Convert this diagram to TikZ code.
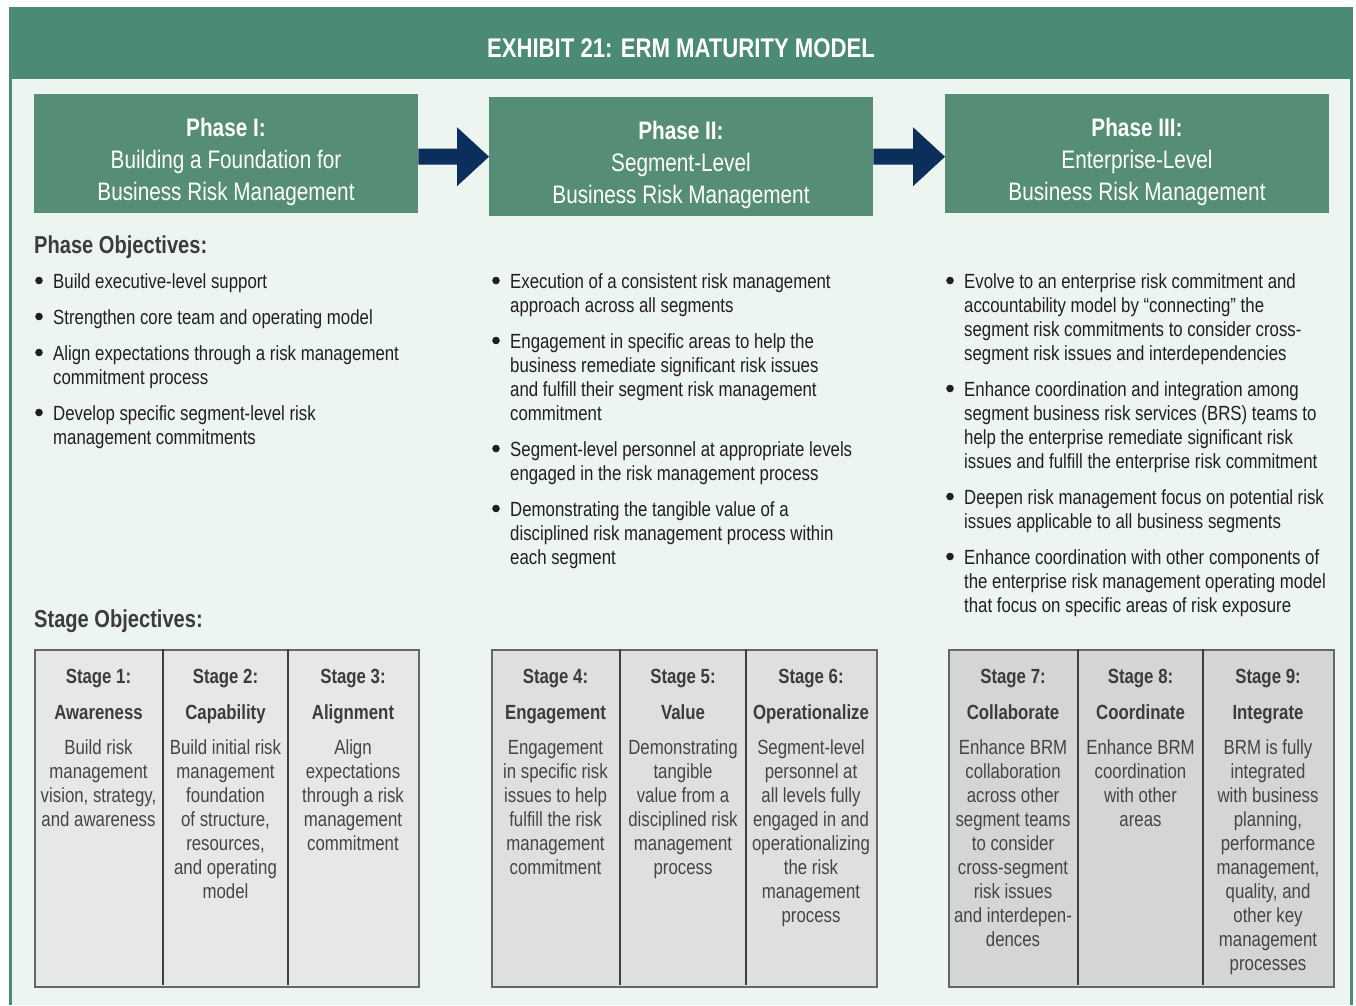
\documentclass[tikz,border=0pt]{standalone}
\usepackage{fontspec}
\setmainfont{Liberation Sans}[FakeStretch=0.82]
\usetikzlibrary{calc}
\definecolor{framegreen}{HTML}{4B8A73}
\definecolor{phasegreen}{HTML}{568E75}
\definecolor{mint}{HTML}{EDF5F0}
\definecolor{navy}{HTML}{0B2E5A}
\definecolor{gA}{HTML}{E6E7E9}
\definecolor{gB}{HTML}{DEDFE1}
\definecolor{gC}{HTML}{D4D5D7}
\definecolor{bodytext}{HTML}{231F20}
\definecolor{headtext}{HTML}{3C3C3C}
\definecolor{stagetext}{HTML}{454545}
\definecolor{boxborder}{HTML}{666666}
\definecolor{divider}{HTML}{3E3E3E}
\newcommand\fbody{\fontsize{20.5}{24}\selectfont}
\newcommand\fphase{\fontsize{25.3}{32}\selectfont}
\newcommand\ftitle{\fontsize{27}{32}\selectfont\bfseries}
\newcommand\fhead{\fontsize{24.5}{30}\selectfont\bfseries}
\tikzset{
  phasebox/.style={fill=phasegreen, inner sep=0pt, anchor=north west},
  phasetext/.style={anchor=north, align=center, font=\fphase, text=white, inner sep=0pt},
  bulletitem/.style={anchor=north west, align=left, font=\fbody, text=bodytext, inner sep=0pt},
  sechead/.style={anchor=base west, font=\fhead, text=headtext, inner sep=0pt},
  stagegroup/.style={draw=boxborder, line width=1.8pt, inner sep=0pt, anchor=north west, minimum height=337pt},
  stagehead/.style={anchor=base, font=\fbody\bfseries, text=headtext, inner sep=0pt},
  stagedesc/.style={anchor=north, align=center, font=\fbody, text=stagetext, inner sep=0pt},
  divline/.style={draw=divider, line width=1.2pt},
  flowarrow/.style={fill=navy}
}
\newcommand\bitem[4]{%
  \node[bulletitem] (#1) at (#2,-#3+16.8) {\strut #4};
  \fill[bodytext] ([xshift=-14pt,yshift=-9.3pt]#1.north west) circle (3.8pt);}
\newcommand\stagecol[6]{%
  \node[stagehead] (#1h) at (#2,-683) {#3};
  \node[stagehead] (#1n) at (#2,-719) {#4};
  \node[stagedesc, text=#6] (#1d) at (#2,-754+16.8) {\strut #5};}
\begin{document}
\begin{tikzpicture}[x=1pt,y=1pt]
\useasboundingbox (0,0) rectangle (1356,-1005);
\fill[white] (0,0) rectangle (1356,-1005);
% frame
\fill[framegreen] (9,-7) rectangle (1353,-1005);
\fill[mint] (12,-79) rectangle (1350,-1005);
\node[anchor=base, font=\ftitle, text=white, inner sep=0pt] (title) at (681,-57.7) {EXHIBIT 21: ERM MATURITY MODEL};
% phase boxes
\node[phasebox, minimum width=384pt, minimum height=119pt] (p1) at (34,-94) {};
\node[phasebox, minimum width=384pt, minimum height=119pt] (p2) at (489,-97) {};
\node[phasebox, minimum width=384pt, minimum height=119pt] (p3) at (945,-94) {};
\node[phasetext] (p1t) at (226,-113.6) {\strut\textbf{Phase I:}\\Building a Foundation for\\Business Risk Management};
\node[phasetext] (p2t) at (681,-116.6) {\strut\textbf{Phase II:}\\Segment-Level\\Business Risk Management};
\node[phasetext] (p3t) at (1137,-113.6) {\strut\textbf{Phase III:}\\Enterprise-Level\\Business Risk Management};
% arrows
\coordinate (a1s) at (p1.east |- p2.west);
\fill[flowarrow] ([yshift=8pt]a1s) -- ([xshift=-32pt,yshift=8pt]p2.west) -- ([xshift=-32pt,yshift=29.5pt]p2.west) -- (p2.west) -- ([xshift=-32pt,yshift=-29.5pt]p2.west) -- ([xshift=-32pt,yshift=-8pt]p2.west) -- ([yshift=-8pt]a1s) -- cycle;
\coordinate (a2e) at (p3.west |- p2.east);
\fill[flowarrow] ([yshift=8pt]p2.east) -- ([xshift=-32pt,yshift=8pt]a2e) -- ([xshift=-32pt,yshift=29.5pt]a2e) -- (a2e) -- ([xshift=-32pt,yshift=-29.5pt]a2e) -- ([xshift=-32pt,yshift=-8pt]a2e) -- ([yshift=-8pt]p2.east) -- cycle;
% phase objectives
\node[sechead] (po) at (34,-253) {Phase Objectives:};
\bitem{b11}{53}{288}{Build executive-level support}
\bitem{b12}{53}{324}{Strengthen core team and operating model}
\bitem{b13}{53}{360}{Align expectations through a risk management\\commitment process}
\bitem{b14}{53}{420}{Develop specific segment-level risk\\management commitments}
\bitem{b21}{510}{288}{Execution of a consistent risk management\\approach across all segments}
\bitem{b22}{510}{348}{Engagement in specific areas to help the\\business remediate significant risk issues\\and fulfill their segment risk management\\commitment}
\bitem{b23}{510}{456}{Segment-level personnel at appropriate levels\\engaged in the risk management process}
\bitem{b24}{510}{516}{Demonstrating the tangible value of a\\disciplined risk management process within\\each segment}
\bitem{b31}{964}{288}{Evolve to an enterprise risk commitment and\\accountability model by “connecting” the\\segment risk commitments to consider cross-\\segment risk issues and interdependencies}
\bitem{b32}{964}{396}{Enhance coordination and integration among\\segment business risk services (BRS) teams to\\help the enterprise remediate significant risk\\issues and fulfill the enterprise risk commitment}
\bitem{b33}{964}{504}{Deepen risk management focus on potential risk\\issues applicable to all business segments}
\bitem{b34}{964}{564}{Enhance coordination with other components of\\the enterprise risk management operating model\\that focus on specific areas of risk exposure}
% stage objectives
\node[sechead] (so) at (34,-627) {Stage Objectives:};
\node[stagegroup, fill=gA, minimum width=384pt] (g1) at (34,-649) {};
\node[stagegroup, fill=gB, minimum width=385pt] (g2) at (491,-649) {};
\node[stagegroup, fill=gC, minimum width=385pt] (g3) at (948,-649) {};
\draw[divline] (163,-649) -- (163,-985);
\draw[divline] (288,-649) -- (288,-985);
\draw[divline] (620,-649) -- (620,-985);
\draw[divline] (746,-649) -- (746,-985);
\draw[divline] (1078,-649) -- (1078,-985);
\draw[divline] (1203,-649) -- (1203,-985);
\stagecol{s1}{98.5}{Stage 1:}{Awareness}{Build risk\\management\\vision, strategy,\\and awareness}{stagetext}
\stagecol{s2}{225.5}{Stage 2:}{Capability}{Build initial risk\\management\\foundation\\of structure,\\resources,\\and operating\\model}{stagetext}
\stagecol{s3}{353}{Stage 3:}{Alignment}{Align\\expectations\\through a risk\\management\\commitment}{stagetext}
\stagecol{s4}{555.5}{Stage 4:}{Engagement}{Engagement\\in specific risk\\issues to help\\fulfill the risk\\management\\commitment}{stagetext}
\stagecol{s5}{683}{Stage 5:}{Value}{Demonstrating\\tangible\\value from a\\disciplined risk\\management\\process}{stagetext}
\stagecol{s6}{811}{Stage 6:}{Operationalize}{Segment-level\\personnel at\\all levels fully\\engaged in and\\operationalizing\\the risk\\management\\process}{stagetext}
\stagecol{s7}{1013}{Stage 7:}{Collaborate}{Enhance BRM\\collaboration\\across other\\segment teams\\to consider\\cross-segment\\risk issues\\and interdepen-\\dences}{stagetext}
\stagecol{s8}{1140.5}{Stage 8:}{Coordinate}{Enhance BRM\\coordination\\with other\\areas}{stagetext}
\stagecol{s9}{1268}{Stage 9:}{Integrate}{BRM is fully\\integrated\\with business\\planning,\\performance\\management,\\quality, and\\other key\\management\\processes}{stagetext}
\end{tikzpicture}
\end{document}
